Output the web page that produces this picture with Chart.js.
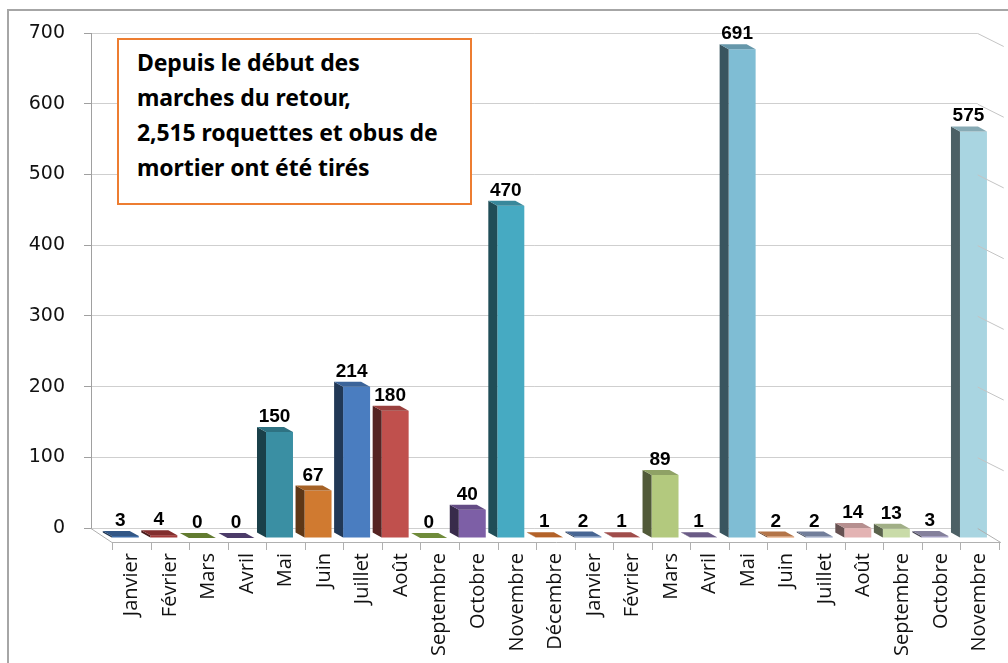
<!DOCTYPE html>
<html>
<head>
<meta charset="utf-8">
<script src="https://cdn.jsdelivr.net/npm/chart.js@4/dist/chart.umd.min.js"></script>
<style>
  html, body { margin: 0; padding: 0; background: #fff; }
  #wrap { position: relative; width: 1008px; height: 663px; overflow: hidden; }
  #frame { position: absolute; left: 7px; top: 9px; width: 1100px; height: 700px;
           border-left: 2px solid #a6a6a6; border-top: 2px solid #a6a6a6; box-sizing: border-box; }
  canvas { position: absolute; left: 0; top: 0; }
  #note { position: absolute; left: 117px; top: 38px; width: 355px; height: 167px; box-sizing: border-box;
          border: 2px solid #ED7D31; background: #fff; padding: 5px 0 0 18px;
          font-family: "Noto Sans", "Open Sans", sans-serif; font-weight: bold; font-size: 23px;
          line-height: 35px; color: #000; letter-spacing: -0.1px; }
</style>
</head>
<body>
<div id="wrap">
  <div id="frame"></div>
  <canvas id="c" width="1008" height="663"></canvas>
  <div id="note">Depuis le début des<br>marches du retour,<br>2,515 roquettes et obus de<br>mortier ont été tirés</div>
</div>
<script>
const categories = ["Janvier","Février","Mars","Avril","Mai","Juin","Juillet","Août","Septembre","Octobre","Novembre","Décembre",
                    "Janvier","Février","Mars","Avril","Mai","Juin","Juillet","Août","Septembre","Octobre","Novembre"];
const values = [3,4,0,0,150,67,214,180,0,40,470,1, 2,1,89,1,691,2,2,14,13,3,575];
const barColors = ["#3F6CA6","#A33A3A","#7A9A3C","#5E4A82","#3A8FA3","#D07A30","#4A7DC0","#C0504D","#8BAE48","#7D5FA6","#46AAC2","#E07B33",
                   "#5A80B8","#C8605E","#B3C97E","#8572A8","#7FBDD4","#E0915A","#8E9DC0","#E3B3B3","#C9DBA8","#A5A0C2","#A9D5E1"];
const yMin = 0, yMax = 700, yStep = 100;

function shade(hex, f) {
  const n = parseInt(hex.slice(1), 16);
  const r = Math.round(((n >> 16) & 255) * f), g = Math.round(((n >> 8) & 255) * f), b = Math.round((n & 255) * f);
  return `rgb(${r},${g},${b})`;
}

const BAR_DX = 15, BAR_DY = 10;     // bars sit in front of the back wall
const DEPTH_X = -9, DEPTH_Y = -5;   // bar depth
const FRONT_DX = 21, FRONT_DY = 14; // front floor edge vs back wall

const bar3d = {
  id: 'bar3d',
  beforeDatasetsDraw(chart) {
    chart.ctx.save();
    chart.ctx.translate(BAR_DX, BAR_DY);
  },
  afterDatasetsDraw(chart) {
    const ctx = chart.ctx;
    const meta = chart.getDatasetMeta(0);
    meta.data.forEach((el, i) => {
      const p = el.getProps(['x', 'y', 'base', 'width'], true);
      const L = p.x - p.width / 2, R = p.x + p.width / 2;
      const col = barColors[i];
      // side face
      ctx.beginPath();
      ctx.moveTo(L, p.y); ctx.lineTo(L, p.base);
      ctx.lineTo(L + DEPTH_X, p.base + DEPTH_Y); ctx.lineTo(L + DEPTH_X, p.y + DEPTH_Y);
      ctx.closePath(); ctx.fillStyle = shade(col, 0.45); ctx.fill();
      // top face
      ctx.beginPath();
      ctx.moveTo(L, p.y); ctx.lineTo(R, p.y);
      ctx.lineTo(R + DEPTH_X, p.y + DEPTH_Y); ctx.lineTo(L + DEPTH_X, p.y + DEPTH_Y);
      ctx.closePath(); ctx.fillStyle = shade(col, 0.8); ctx.fill();
      // value label
      ctx.fillStyle = '#000';
      ctx.font = 'bold 19px "Liberation Sans", Arial, sans-serif';
      ctx.textAlign = 'center'; ctx.textBaseline = 'alphabetic';
      ctx.fillText(String(values[i]), p.x - 5, p.y - 10);
    });
    ctx.restore();
  },
  afterDraw(chart) {
    const ctx = chart.ctx, a = chart.chartArea, xs = chart.scales.x, ys = chart.scales.y;
    const slot = (a.right - a.left) / categories.length;
    const y0 = ys.getPixelForValue(0);
    ctx.save();
    ctx.strokeStyle = '#b0b0b0'; ctx.lineWidth = 1;
    // floor edges
    ctx.beginPath();
    ctx.moveTo(a.left, y0 + 0.5); ctx.lineTo(a.left + FRONT_DX, y0 + FRONT_DY + 0.5);
    ctx.lineTo(a.right + FRONT_DX + 2, y0 + FRONT_DY + 0.5);
    ctx.moveTo(a.right, y0 + 0.5); ctx.lineTo(a.right + FRONT_DX + 2, y0 + FRONT_DY + 0.5);
    ctx.stroke();
    // x tick marks on the front floor edge
    ctx.beginPath();
    for (let i = 0; i <= categories.length; i++) {
      const x = Math.round(xs.getPixelForValue(0) - slot / 2 + i * slot + FRONT_DX) + 0.5;
      ctx.moveTo(x, y0 + FRONT_DY); ctx.lineTo(x, y0 + FRONT_DY + 8);
    }
    ctx.stroke();
    // right wall gridline diagonals
    ctx.strokeStyle = '#c4c4c4';
    ctx.beginPath();
    for (let v = yMin + yStep; v <= yMax; v += yStep) {
      const y = ys.getPixelForValue(v) + 0.5;
      ctx.moveTo(a.right, y); ctx.lineTo(a.right + 26, y + 13);
    }
    ctx.stroke();
    ctx.restore();
  }
};

new Chart(document.getElementById('c'), {
  type: 'bar',
  data: {
    labels: categories,
    datasets: [{
      data: values,
      backgroundColor: barColors,
      borderWidth: 0,
      categoryPercentage: 1.0,
      barPercentage: 0.7,
      clip: false
    }]
  },
  options: {
    responsive: false,
    animation: false,
    devicePixelRatio: 1,
    layout: { padding: { left: 0, top: 33, right: 25, bottom: 0 } },
    plugins: { legend: { display: false }, tooltip: { enabled: false } },
    scales: {
      x: {
        grid: { display: false, drawTicks: false },
        border: { display: false },
        ticks: {
          autoSkip: false, minRotation: 90, maxRotation: 90, padding: 25, labelOffset: 21,
          color: '#111', font: { family: '"Open Sans", sans-serif', size: 20 }
        },
        afterFit(scale) { scale.height = 135; }
      },
      y: {
        min: yMin, max: yMax,
        grid: { color: '#cfcfcf', tickLength: 7, tickColor: '#a0a0a0' },
        border: { color: '#a0a0a0' },
        ticks: {
          stepSize: yStep, padding: 19, color: '#111',
          font: { family: '"DejaVu Sans", sans-serif', size: 19 }
        },
        afterFit(scale) { scale.width = 91; }
      }
    }
  },
  plugins: [bar3d]
});
</script>
</body>
</html>
